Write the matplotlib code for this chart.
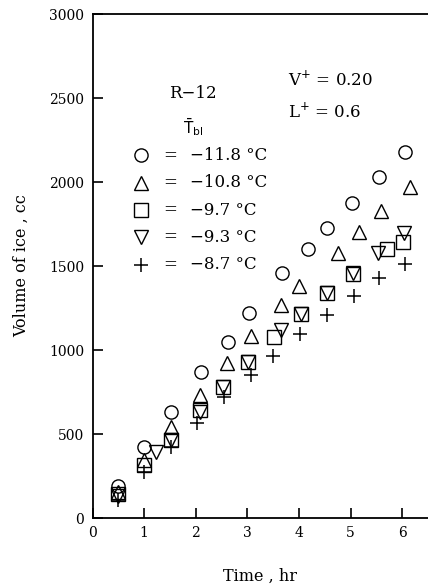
import numpy as np
import matplotlib
matplotlib.use("Agg")
import matplotlib.pyplot as plt

plt.rcParams['font.family'] = ['DejaVu Serif']

# data (time in hr, volume in cc)
t_c = [0.5, 1.0, 1.52, 2.1, 2.63, 3.03, 3.68, 4.17, 4.54, 5.03, 5.55, 6.06]
v_c = [190, 420, 630, 870, 1045, 1220, 1460, 1600, 1725, 1875, 2030, 2180]

t_t = [0.5, 1.0, 1.52, 2.08, 2.6, 3.07, 3.65, 4.01, 4.75, 5.17, 5.59, 6.15]
v_t = [155, 345, 540, 735, 920, 1085, 1270, 1380, 1580, 1705, 1830, 1970]

t_s = [0.5, 1.0, 1.52, 2.08, 2.52, 3.02, 3.52, 4.04, 4.54, 5.04, 5.71, 6.02]
v_s = [140, 315, 465, 645, 782, 930, 1075, 1212, 1338, 1452, 1600, 1645]

t_v = [0.5, 1.23, 1.52, 2.08, 2.52, 3.02, 3.65, 4.04, 4.54, 5.04, 5.53, 6.04]
v_v = [130, 390, 465, 630, 782, 930, 1120, 1212, 1340, 1460, 1575, 1698]

t_p = [0.5, 1.0, 1.52, 2.03, 2.55, 3.08, 3.5, 4.02, 4.55, 5.07, 5.55, 6.06]
v_p = [110, 276, 425, 567, 722, 851, 964, 1093, 1208, 1323, 1430, 1512]

series = [
    (t_c, v_c, 'o', '\u221211.8 \u00b0C'),
    (t_t, v_t, '^', '\u221210.8 \u00b0C'),
    (t_s, v_s, 's', '\u22129.7 \u00b0C'),
    (t_v, v_v, 'v', '\u22129.3 \u00b0C'),
    (t_p, v_p, '+', '\u22128.7 \u00b0C'),
]

fig = plt.figure(figsize=(4.28, 5.87), dpi=100)
ax = fig.add_axes([92.5 / 428, 1 - 518 / 587, 335.5 / 428, 504 / 587])


def mark(x, y, m, **kw):
    if m == '+':
        ax.plot(x, y, m, color='black', markersize=10, mew=1.1, linestyle='none', **kw)
    else:
        ax.plot(x, y, m, markerfacecolor='none', markeredgecolor='black',
                markersize=9.5, mew=1.0, linestyle='none', **kw)


for t, v, m, lab in series:
    mark(t, v, m)

ax.set_xlim(0, 6.5)
ax.set_ylim(0, 3000)
ax.set_xticks([0, 1, 2, 3, 4, 5, 6])
ax.set_yticks(np.arange(0, 3001, 500))
ax.tick_params(direction='in', length=7, width=1.2, labelsize=10, pad=6)
ax.spines['right'].set_visible(False)
for s in ['left', 'bottom', 'top']:
    ax.spines[s].set_linewidth(1.3)

ax.set_xlabel('Time , hr', fontsize=11.5, labelpad=20)
ax.set_ylabel('Volume of ice , cc', fontsize=11.5, labelpad=14)

# legend, drawn by hand like in the original
tr = ax.transAxes
ax.text(0.30, 0.843, 'R\u221212', transform=tr, ha='center', va='center', fontsize=12)
ax.text(0.30, 0.776, r'$\bar{\mathrm{T}}_{\mathrm{bl}}$', transform=tr,
        ha='center', va='center', fontsize=11)
rows = [0.720, 0.665, 0.611, 0.5575, 0.502]
for (t, v, m, lab), yy in zip(series, rows):
    mark([0.1446], [yy], m, transform=tr)
    ax.text(0.231, yy, '=', transform=tr, ha='center', va='center', fontsize=12)
    ax.text(0.291, yy, lab, transform=tr, ha='left', va='center', fontsize=12)

ax.text(0.582, 0.869, r'V$^{+}$ = 0.20', transform=tr, ha='left', va='center', fontsize=12)
ax.text(0.582, 0.806, r'L$^{+}$ = 0.6', transform=tr, ha='left', va='center', fontsize=12)

fig.savefig('out.png', dpi=100)
